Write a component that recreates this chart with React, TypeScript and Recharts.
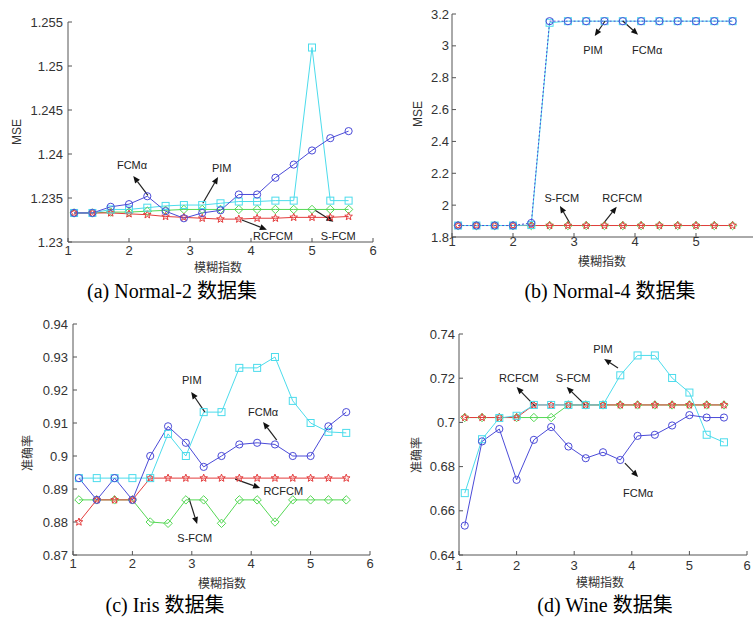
import React from "react";
import { LineChart, Line, XAxis, YAxis, ReferenceLine, ReferenceDot } from "recharts";

// fuzzy index m used by every run
const fuzzyIndex = [1.1, 1.4, 1.7, 2.0, 2.3, 2.6, 2.9, 3.2, 3.5, 3.8, 4.1, 4.4, 4.7, 5.0, 5.3, 5.6];
const xTicks = [1, 2, 3, 4, 5, 6];
const xTicksCut = [1, 2, 3, 4, 5]; // panel (b): the 6 falls outside the page

// (a) Normal-2, MSE
const normal2FCMa = [1.2333, 1.2333, 1.234, 1.2343, 1.2352, 1.2335, 1.2327, 1.2333, 1.2336, 1.2354, 1.2354, 1.2373, 1.2388, 1.2404, 1.2418, 1.2426];
const normal2PIM = [1.2333, 1.2333, 1.2337, 1.2337, 1.2339, 1.2341, 1.2342, 1.2342, 1.2344, 1.2346, 1.2346, 1.2347, 1.2347, 1.2521, 1.2347, 1.2347];
const normal2SFCM = [1.2333, 1.2333, 1.2334, 1.2334, 1.2335, 1.2336, 1.2337, 1.2337, 1.2337, 1.2337, 1.2337, 1.2337, 1.2337, 1.2337, 1.2337, 1.2337];
const normal2RCFCM = [1.2333, 1.2333, 1.2333, 1.2332, 1.2331, 1.2329, 1.2328, 1.2327, 1.2326, 1.2326, 1.2327, 1.2327, 1.2328, 1.2328, 1.2328, 1.2329];
const normal2Ticks = [1.23, 1.235, 1.24, 1.245, 1.25, 1.255];

// (b) Normal-4, MSE
const normal4FCMa = [1.872, 1.872, 1.872, 1.872, 1.888, 3.155, 3.155, 3.155, 3.155, 3.155, 3.155, 3.155, 3.155, 3.155, 3.155, 3.155];
const normal4PIM = [1.872, 1.872, 1.872, 1.872, 1.875, 3.145, 3.155, 3.155, 3.155, 3.155, 3.155, 3.155, 3.155, 3.155, 3.155, 3.155];
const normal4SFCM = [1.872, 1.872, 1.872, 1.872, 1.872, 1.872, 1.872, 1.872, 1.872, 1.872, 1.872, 1.872, 1.872, 1.872, 1.872, 1.872];
const normal4RCFCM = [1.872, 1.872, 1.872, 1.872, 1.872, 1.872, 1.872, 1.872, 1.872, 1.872, 1.872, 1.872, 1.872, 1.872, 1.872, 1.872];
const normal4Ticks = [1.8, 2, 2.2, 2.4, 2.6, 2.8, 3, 3.2];

// (c) Iris, accuracy
const irisFCMa = [0.8933, 0.8867, 0.8933, 0.8867, 0.9, 0.909, 0.904, 0.8967, 0.9, 0.9035, 0.904, 0.9035, 0.9, 0.9, 0.909, 0.9133];
const irisPIM = [0.8933, 0.8933, 0.8933, 0.8933, 0.8933, 0.9067, 0.9, 0.9133, 0.9133, 0.9267, 0.9267, 0.93, 0.9167, 0.91, 0.9073, 0.907];
const irisSFCM = [0.8867, 0.8867, 0.8867, 0.8867, 0.88, 0.8796, 0.8867, 0.8867, 0.8796, 0.8867, 0.8867, 0.88, 0.8867, 0.8867, 0.8867, 0.8867];
const irisRCFCM = [0.88, 0.8867, 0.8867, 0.8867, 0.8933, 0.8933, 0.8933, 0.8933, 0.8933, 0.8933, 0.8933, 0.8933, 0.8933, 0.8933, 0.8933, 0.8933];
const irisTicks = [0.87, 0.88, 0.89, 0.9, 0.91, 0.92, 0.93, 0.94];

// (d) Wine, accuracy
const wineFCMa = [0.6533, 0.6914, 0.697, 0.674, 0.6921, 0.6979, 0.6891, 0.6838, 0.6865, 0.683, 0.6939, 0.6944, 0.6986, 0.7033, 0.7022, 0.7022];
const winePIM = [0.668, 0.6924, 0.702, 0.703, 0.7079, 0.7079, 0.7079, 0.7079, 0.7079, 0.7213, 0.7303, 0.7303, 0.7201, 0.7135, 0.6944, 0.691];
const wineSFCM = [0.7022, 0.7022, 0.7022, 0.7022, 0.7022, 0.7022, 0.7079, 0.7079, 0.7079, 0.7079, 0.7079, 0.7079, 0.7079, 0.7079, 0.7079, 0.7079];
const wineRCFCM = [0.7022, 0.7022, 0.7022, 0.7022, 0.7079, 0.7079, 0.7079, 0.7079, 0.7079, 0.7079, 0.7079, 0.7079, 0.7079, 0.7079, 0.7079, 0.7079];
const wineTicks = [0.64, 0.66, 0.68, 0.7, 0.72, 0.74];

// arrow notes: text at (tx, ty), arrow from (x1, y1) to head at (x2, y2), data units
type Note = { text: string; tx: number; ty: number; x1: number; y1: number; x2: number; y2: number };

const normal2Notes: Note[] = [
  { text: "FCMα", tx: 2.05, ty: 1.2388, x1: 2.31, y1: 1.2353, x2: 2.07, y2: 1.2375 },
  { text: "PIM", tx: 3.52, ty: 1.2384, x1: 3.21, y1: 1.2344, x2: 3.46, y2: 1.2374 },
  { text: "RCFCM", tx: 4.36, ty: 1.2307, x1: 3.85, y1: 1.2325, x2: 4.26, y2: 1.2314 },
  { text: "S-FCM", tx: 5.43, ty: 1.2307, x1: 5.05, y1: 1.2336, x2: 5.35, y2: 1.2323 },
];
const normal4Notes: Note[] = [
  { text: "PIM", tx: 3.31, ty: 2.974, x1: 3.51, y1: 3.156, x2: 3.34, y2: 3.062 },
  { text: "FCMα", tx: 4.2, ty: 2.974, x1: 3.8, y1: 3.156, x2: 4.05, y2: 3.07 },
  { text: "S-FCM", tx: 2.8, ty: 2.045, x1: 2.93, y1: 1.888, x2: 2.77, y2: 1.995 },
  { text: "RCFCM", tx: 3.79, ty: 2.045, x1: 3.49, y1: 1.888, x2: 3.7, y2: 1.99 },
];
const irisNotes: Note[] = [
  { text: "PIM", tx: 3.0, ty: 0.923, x1: 3.22, y1: 0.9133, x2: 2.99, y2: 0.9194 },
  { text: "FCMα", tx: 4.2, ty: 0.9133, x1: 4.43, y1: 0.9048, x2: 4.2, y2: 0.9103 },
  { text: "RCFCM", tx: 4.54, ty: 0.8894, x1: 3.73, y1: 0.893, x2: 4.15, y2: 0.8903 },
  { text: "S-FCM", tx: 3.05, ty: 0.8752, x1: 2.95, y1: 0.8873, x2: 3.09, y2: 0.8794 },
];
const wineNotes: Note[] = [
  { text: "PIM", tx: 3.5, ty: 0.7332, x1: 3.76, y1: 0.7246, x2: 3.52, y2: 0.7287 },
  { text: "RCFCM", tx: 2.04, ty: 0.72, x1: 2.32, y1: 0.7074, x2: 2.0, y2: 0.716 },
  { text: "S-FCM", tx: 2.98, ty: 0.72, x1: 3.19, y1: 0.7079, x2: 2.87, y2: 0.716 },
  { text: "FCMα", tx: 4.11, ty: 0.668, x1: 3.88, y1: 0.6816, x2: 4.11, y2: 0.6753 },
];

const FONT = '"Liberation Sans", Arial, sans-serif';
const CJK = '"Noto Sans CJK SC", sans-serif';
const C = { fcma: "#4b4bd8", pim: "#4cdcec", sfcm: "#55d855", rcfcm: "#e43c3c" };

const buildRows = (a: number[], b: number[], c: number[], d: number[]) =>
  fuzzyIndex.map((m, i) => ({ m, fcma: a[i], pim: b[i], sfcm: c[i], rcfcm: d[i] }));

const marker = (kind: string, color: string) => (p: any) => {
  const { cx, cy, index } = p;
  if (cx == null || cy == null) return <g key={index} />;
  const s = { fill: "none", stroke: color, strokeWidth: 1 };
  if (kind === "circle") return <circle key={index} cx={cx} cy={cy} r={3.6} {...s} />;
  if (kind === "square") return <rect key={index} x={cx - 3.5} y={cy - 3.5} width={7} height={7} {...s} />;
  if (kind === "diamond")
    return <polygon key={index} points={`${cx},${cy - 4.2} ${cx + 4.2},${cy} ${cx},${cy + 4.2} ${cx - 4.2},${cy}`} {...s} />;
  const pts: string[] = [];
  for (let k = 0; k < 10; k++) {
    const r = k % 2 === 0 ? 4 : 1.7;
    const a = -Math.PI / 2 + (k * Math.PI) / 5;
    pts.push(`${cx + r * Math.cos(a)},${cy + r * Math.sin(a)}`);
  }
  return <polygon key={index} points={pts.join(" ")} {...s} />;
};

const Arrow = (p: any) => {
  const { x1, y1, x2, y2 } = p;
  const dx = x2 - x1;
  const dy = y2 - y1;
  const len = Math.hypot(dx, dy) || 1;
  const ux = dx / len;
  const uy = dy / len;
  const bx = x2 - ux * 7;
  const by = y2 - uy * 7;
  return (
    <g>
      <line x1={x1} y1={y1} x2={bx} y2={by} stroke="#222" strokeWidth={1.2} />
      <polygon points={`${x2},${y2} ${bx - uy * 3},${by + ux * 3} ${bx + uy * 3},${by - ux * 3}`} fill="#111" />
    </g>
  );
};

type PanelProps = {
  left: number;
  top: number;
  width: number;
  height: number;
  margin: { top: number; right: number; left: number; bottom: number };
  yWidth: number;
  xHeight: number;
  xTickValues: number[];
  yDomain: [number, number];
  yTicks: number[];
  xTickMargin: number;
  yTickMargin: number;
  rows: any[];
  notes: Note[];
  dashedBlue?: boolean;
};

function Panel(p: PanelProps) {
  const tick = { fill: "#333", fontSize: 13, fontFamily: FONT };
  return (
    <div style={{ position: "absolute", left: p.left, top: p.top }}>
      <LineChart width={p.width} height={p.height} data={p.rows} margin={p.margin}>
        <XAxis dataKey="m" type="number" domain={[1, 6]} ticks={p.xTickValues} interval={0} allowDataOverflow
          tickSize={-4} tickMargin={p.xTickMargin} height={p.xHeight} stroke="#555" tick={tick} />
        <XAxis xAxisId="top" orientation="top" type="number" domain={[1, 6]} ticks={p.xTickValues} interval={0}
          tickSize={-4} height={0} stroke="#555" tickFormatter={() => ""} />
        <YAxis type="number" domain={p.yDomain} ticks={p.yTicks} interval={0} allowDataOverflow
          tickSize={-4} tickMargin={p.yTickMargin} width={p.yWidth} stroke="#555" tick={tick} />
        <YAxis yAxisId="right" orientation="right" type="number" domain={p.yDomain} ticks={p.yTicks} interval={0}
          tickSize={-4} width={0} stroke="#555" tickFormatter={() => ""} />
        <Line dataKey="sfcm" stroke={C.sfcm} strokeWidth={1} dot={marker("diamond", C.sfcm)} activeDot={false} isAnimationActive={false} />
        <Line dataKey="rcfcm" stroke={C.rcfcm} strokeWidth={1} dot={marker("star", C.rcfcm)} activeDot={false} isAnimationActive={false} />
        <Line dataKey="pim" stroke={C.pim} strokeWidth={1} dot={marker("square", C.pim)} activeDot={false} isAnimationActive={false} />
        <Line dataKey="fcma" stroke={C.fcma} strokeWidth={1} strokeDasharray={p.dashedBlue ? "2 2" : undefined}
          dot={marker("circle", C.fcma)} activeDot={false} isAnimationActive={false} />
        {p.notes.map((n, i) => (
          <ReferenceLine key={"a" + i} segment={[{ x: n.x1, y: n.y1 }, { x: n.x2, y: n.y2 }]} ifOverflow="visible" shape={Arrow} />
        ))}
        {p.notes.map((n, i) => (
          <ReferenceDot key={"t" + i} x={n.tx} y={n.ty} r={0} ifOverflow="visible"
            shape={(d: any) => (
              <text x={d.cx} y={d.cy} textAnchor="middle" dominantBaseline="central" fontFamily={FONT} fontSize={11} fill="#222">
                {n.text}
              </text>
            )} />
        ))}
      </LineChart>
    </div>
  );
}

const abs = (x: number, y: number, extra: React.CSSProperties = {}): React.CSSProperties => ({
  position: "absolute", left: x, top: y, transform: "translate(-50%, -50%)", whiteSpace: "nowrap", lineHeight: 1, ...extra,
});
const axisTitle = { fontFamily: CJK, fontSize: 12, color: "#333" };
const yTitle = (x: number, y: number, t: string, font: string) => (
  <div style={abs(x, y, { fontFamily: font, fontSize: 12, color: "#333", transform: "translate(-50%, -50%) rotate(-90deg)" })}>{t}</div>
);
const caption = { fontFamily: '"Liberation Serif", "Noto Sans CJK SC", serif', fontSize: 20, color: "#000" };

export default function App() {
  return (
    <div style={{ position: "absolute", left: 0, top: 0, width: 753, height: 619, overflow: "hidden", background: "#fff" }}>
      <Panel left={0} top={0} width={380} height={280} margin={{ top: 22, right: 7, left: 0, bottom: 0 }}
        yWidth={68} xHeight={38} xTickValues={xTicks} yDomain={[1.23, 1.255]} yTicks={normal2Ticks} xTickMargin={8} yTickMargin={9}
        rows={buildRows(normal2FCMa, normal2PIM, normal2SFCM, normal2RCFCM)} notes={normal2Notes} />
      <Panel left={380} top={0} width={380} height={280} margin={{ top: 14, right: 3, left: 0, bottom: 0 }}
        yWidth={72} xHeight={43} xTickValues={xTicksCut} yDomain={[1.8, 3.2]} yTicks={normal4Ticks} xTickMargin={4} yTickMargin={7}
        rows={buildRows(normal4FCMa, normal4PIM, normal4SFCM, normal4RCFCM)} notes={normal4Notes} dashedBlue />
      <Panel left={0} top={300} width={380} height={319} margin={{ top: 24, right: 10, left: 0, bottom: 0 }}
        yWidth={73} xHeight={64} xTickValues={xTicks} yDomain={[0.87, 0.94]} yTicks={irisTicks} xTickMargin={8} yTickMargin={9}
        rows={buildRows(irisFCMa, irisPIM, irisSFCM, irisRCFCM)} notes={irisNotes} />
      <Panel left={380} top={300} width={373} height={319} margin={{ top: 34, right: 6, left: 0, bottom: 0 }}
        yWidth={79} xHeight={64} xTickValues={xTicks} yDomain={[0.64, 0.74]} yTicks={wineTicks} xTickMargin={10} yTickMargin={8}
        rows={buildRows(wineFCMa, winePIM, wineSFCM, wineRCFCM)} notes={wineNotes} />

      {yTitle(17, 132, "MSE", FONT)}
      {yTitle(418, 114, "MSE", FONT)}
      {yTitle(27, 453, "准确率", CJK)}
      {yTitle(416, 455, "准确率", CJK)}

      <div style={abs(218, 267, axisTitle)}>模糊指数</div>
      <div style={abs(602, 261, axisTitle)}>模糊指数</div>
      <div style={abs(222, 583, axisTitle)}>模糊指数</div>
      <div style={abs(600, 582, axisTitle)}>模糊指数</div>

      <div style={abs(172, 291, caption)}>(a) Normal-2 数据集</div>
      <div style={abs(610, 291, caption)}>(b) Normal-4 数据集</div>
      <div style={abs(165, 605, caption)}>(c) Iris 数据集</div>
      <div style={abs(605, 605, caption)}>(d) Wine 数据集</div>
    </div>
  );
}
